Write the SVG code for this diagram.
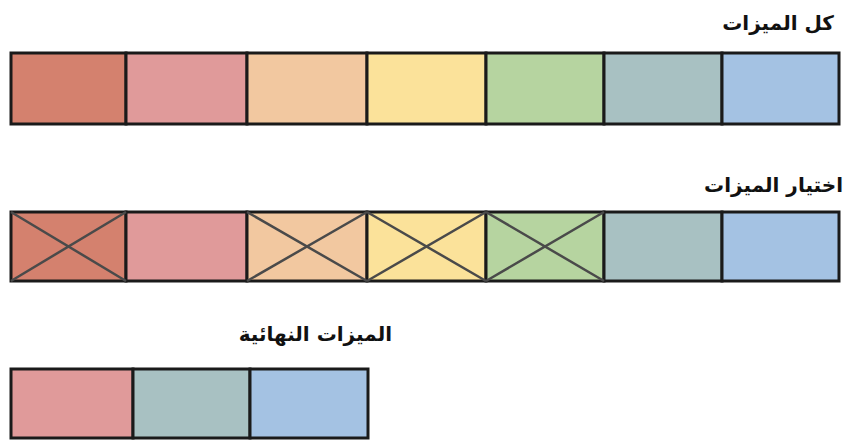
<svg xmlns="http://www.w3.org/2000/svg" width="845" height="443" viewBox="0 0 845 443">
<style>
.lbl{font-family:"DejaVu Sans","Noto Sans",sans-serif;font-weight:bold;font-size:20px;fill:#111;text-anchor:end}
.c{stroke:#1a1a1a;stroke-width:3}
.x{stroke:#4a4a4a;stroke-width:2.5;fill:none}
.c1{fill:#d4816e}.c2{fill:#e09a9a}.c3{fill:#f2c8a0}.c4{fill:#fbe29a}.c5{fill:#b6d4a0}.c6{fill:#a8c1c2}.c7{fill:#a4c2e3}
</style>
<rect width="845" height="443" fill="#fff"/>
<g id="row1">
<text class="lbl" x="834" y="30">كل الميزات</text>
<rect class="c c1" x="11" y="53" width="115" height="71"/>
<rect class="c c2" x="126" y="53" width="121" height="71"/>
<rect class="c c3" x="247" y="53" width="120" height="71"/>
<rect class="c c4" x="367" y="53" width="119" height="71"/>
<rect class="c c5" x="486" y="53" width="118" height="71"/>
<rect class="c c6" x="604" y="53" width="118" height="71"/>
<rect class="c c7" x="722" y="53" width="117" height="71"/>
</g>
<g id="row2">
<text class="lbl" x="843" y="192">اختيار الميزات</text>
<rect class="c c1" x="11" y="212" width="115" height="69"/>
<rect class="c c2" x="126" y="212" width="121" height="69"/>
<rect class="c c3" x="247" y="212" width="120" height="69"/>
<rect class="c c4" x="367" y="212" width="119" height="69"/>
<rect class="c c5" x="486" y="212" width="118" height="69"/>
<rect class="c c6" x="604" y="212" width="118" height="69"/>
<rect class="c c7" x="722" y="212" width="117" height="69"/>
<path class="x" d="M11,212L126,281M126,212L11,281M247,212L367,281M367,212L247,281M367,212L486,281M486,212L367,281M486,212L604,281M604,212L486,281"/>
</g>
<g id="row3">
<text class="lbl" x="392" y="341">الميزات النهائية</text>
<rect class="c c2" x="11" y="369" width="122" height="69"/>
<rect class="c c6" x="133" y="369" width="117" height="69"/>
<rect class="c c7" x="250" y="369" width="118" height="69"/>
</g>
</svg>
